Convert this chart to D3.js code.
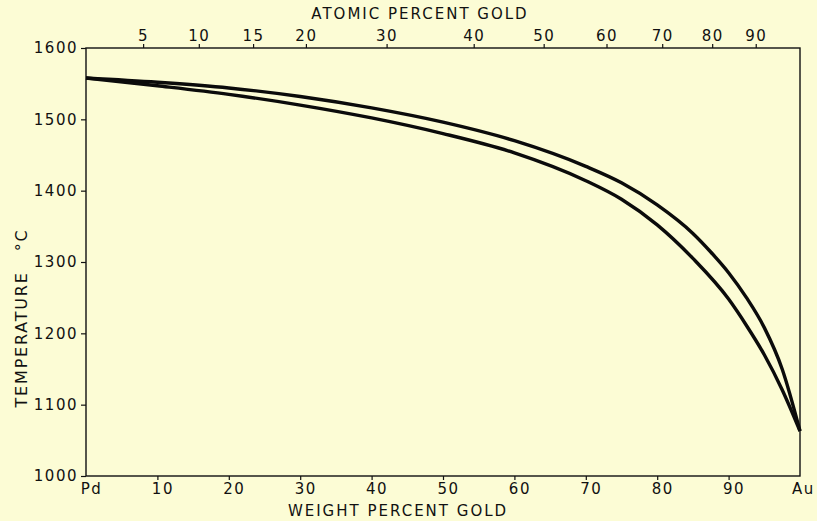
<!DOCTYPE html>
<html><head><meta charset="utf-8">
<script src="https://cdn.jsdelivr.net/npm/d3@7"></script>
<style>
html,body{margin:0;padding:0;background:#fcfcd5;}
svg{display:block;}
text{font-family:"DejaVu Sans",sans-serif;fill:#111;}
</style></head><body>
<svg id="c" width="817" height="521"></svg>
<script>
// Liquidus (upper) and solidus (lower) curves: weight % gold vs temperature °C
const liquidusWt = [0, 10, 20, 30, 40, 50, 60, 70, 75, 80, 85, 87.5, 90, 92.5, 95, 97.5, 100];
const liquidusT  = [1558, 1552, 1544, 1532, 1516, 1496, 1470, 1434, 1411, 1380, 1340, 1314, 1285, 1250, 1208, 1150, 1063];
const solidusWt  = [0, 10, 20, 30, 40, 50, 60, 70, 75, 80, 85, 90, 92.5, 95, 97.5, 100];
const solidusT   = [1558, 1547, 1535, 1520, 1502, 1480, 1453, 1414, 1388, 1352, 1305, 1248, 1211, 1170, 1121, 1063];
// Bottom axis tick labels (weight percent gold)
const wtTicks  = [0, 10, 20, 30, 40, 50, 60, 70, 80, 90, 100];
const wtLabels = ["Pd", "10", "20", "30", "40", "50", "60", "70", "80", "90", "Au"];
// Top axis: atomic percent labels and their weight-percent positions
const atLabels = ["5", "10", "15", "20", "30", "40", "50", "60", "70", "80", "90"];
const atPosWt  = [8.0, 15.8, 23.4, 30.8, 42.1, 54.3, 64.1, 72.9, 80.7, 87.7, 93.8];
// Temperature ticks
const tTicks = [1000, 1100, 1200, 1300, 1400, 1500, 1600];

const svg = d3.select("#c");
const L = 86, R = 800, T = 48, B = 476;
const x = d3.scaleLinear().domain([0, 100]).range([L, R]);
const y = d3.scaleLinear().domain([1000, 1600]).range([B, T]);

// frame
svg.append("rect").attr("x", L).attr("y", T).attr("width", R - L).attr("height", B - T)
  .attr("fill", "none").attr("stroke", "#111").attr("stroke-width", 1.4);

// left axis
const yAxis = svg.append("g").attr("transform", `translate(${L},0)`)
  .call(d3.axisLeft(y).tickValues(tTicks).tickSize(5).tickPadding(3).tickFormat(d3.format("d")));
yAxis.select(".domain").remove();
yAxis.selectAll("line").attr("stroke", "#111").attr("stroke-width", 1.2);
yAxis.selectAll("text").style("font-size", "15px").style("letter-spacing", "1.5px").attr("fill", "#111");

// bottom axis
const xAxis = svg.append("g").attr("transform", `translate(0,${B})`)
  .call(d3.axisBottom(x).tickValues(wtTicks).tickSize(4).tickPadding(3)
    .tickFormat((d, i) => wtLabels[i]));
xAxis.select(".domain").remove();
xAxis.selectAll("line").attr("stroke", "#111").attr("stroke-width", 1.2)
  .filter(d => d === 0 || d === 100).remove();
xAxis.selectAll("text").style("font-size", "15px").style("letter-spacing", "1.5px")
  .attr("fill", "#111").attr("dx", "5px");
xAxis.selectAll(".tick text").filter(d => d === 100).attr("dx", "3px");

// top axis (atomic percent gold)
const topAxis = svg.append("g").attr("transform", `translate(0,${T})`)
  .call(d3.axisTop(x).tickValues(atPosWt).tickSize(4).tickPadding(3)
    .tickFormat((d, i) => atLabels[i]));
topAxis.select(".domain").remove();
topAxis.selectAll("line").attr("stroke", "#111").attr("stroke-width", 1.2);
topAxis.selectAll("text").style("font-size", "15px").style("letter-spacing", "1.5px").attr("fill", "#111");

// curves
const line = d3.line().x(d => x(d[0])).y(d => y(d[1])).curve(d3.curveMonotoneX);
const liq = liquidusWt.map((w, i) => [w, liquidusT[i]]);
const sol = solidusWt.map((w, i) => [w, solidusT[i]]);
[liq, sol].forEach(data => {
  svg.append("path").datum(data).attr("d", line)
    .attr("fill", "none").attr("stroke", "#0b0b0b").attr("stroke-width", 3.4)
    .attr("stroke-linejoin", "round");
});

// titles
svg.append("text").attr("x", 420).attr("y", 19).attr("text-anchor", "middle")
  .style("font-size", "15px").style("letter-spacing", "2px").text("ATOMIC PERCENT GOLD");
svg.append("text").attr("x", 398).attr("y", 516).attr("text-anchor", "middle")
  .style("font-size", "15px").style("letter-spacing", "2px").text("WEIGHT PERCENT GOLD");
const yl = svg.append("text").attr("transform", "translate(27,318) rotate(-90)").attr("text-anchor", "middle")
  .style("font-size", "16px").style("letter-spacing", "1.8px");
yl.append("tspan").text("TEMPERATURE");
yl.append("tspan").attr("dx", "20px").text("°C");
</script>
</body></html>
